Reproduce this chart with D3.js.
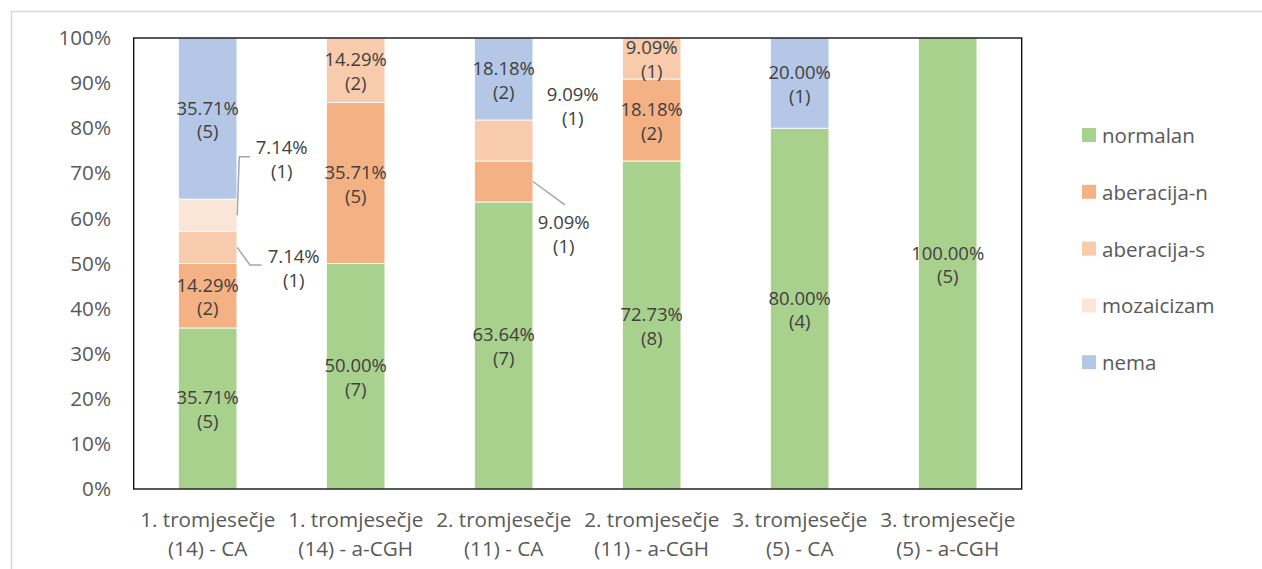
<!DOCTYPE html>
<html><head><meta charset="utf-8">
<script src="https://cdn.jsdelivr.net/npm/d3@7"></script>
<style>body{margin:0;background:#fff}svg{display:block}text{font-family:"Open Sans",sans-serif;fill:#595959}</style>
</head><body>
<svg id="c" width="1262" height="569"></svg>
<script>
const categories = [["1. tromjesečje","(14) - CA"],["1. tromjesečje","(14) - a-CGH"],["2. tromjesečje","(11) - CA"],["2. tromjesečje","(11) - a-CGH"],["3. tromjesečje","(5) - CA"],["3. tromjesečje","(5) - a-CGH"]];
const seriesNames = ["normalan","aberacija-n","aberacija-s","mozaicizam","nema"];
const normalan    = [35.71, 50.00, 63.64, 72.73, 80.00, 100.00];
const aberacijaN  = [14.29, 35.71,  9.09, 18.18,  0,      0];
const aberacijaS  = [ 7.14, 14.29,  9.09,  9.09,  0,      0];
const mozaicizam  = [ 7.14,  0,     0,     0,     0,      0];
const nema        = [35.71,  0,    18.18,  0,    20.00,   0];
const countNormalan   = [5,7,7,8,4,5];
const countAberacijaN = [2,5,1,2,0,0];
const countAberacijaS = [1,2,1,1,0,0];
const countMozaicizam = [1,0,0,0,0,0];
const countNema       = [5,0,2,0,1,0];
const yTicks = [0,10,20,30,40,50,60,70,80,90,100];

const colors = ["#a9d18e","#f4b183","#f8cbad","#fbe5d6","#b4c7e7"];
const values = [normalan, aberacijaN, aberacijaS, mozaicizam, nema];
const counts = [countNormalan, countAberacijaN, countAberacijaS, countMozaicizam, countNema];

// callouts: "series-category" -> label offset (px) and leader path
const callouts = {
  "3-0": {dx: 74, dy: -57, leader: [[0.3,0],[2.3,-58.5],[13,-58.5]]},
  "2-0": {dx: 86, dy: 20, leader: [[0.3,0],[13,17.6],[24.7,17.6]]},
  "2-2": {dx: 69, dy: -35.5, leader: null},
  "1-2": {dx: 60, dy: 52, leader: [[0,0],[32,23.3]]}
};

const svg = d3.select("#c");
const L = 133.7, R = 1021.7, T = 38, B = 489;
const FONT = '"Open Sans",sans-serif';

// outer chart border
svg.append("rect").attr("x",11.5).attr("y",11.5).attr("width",1300).attr("height",600)
  .attr("fill","none").attr("stroke","#d9d9d9").attr("stroke-width",1.5);

const x = d3.scaleBand().domain(d3.range(categories.length)).range([L,R]).paddingInner(0.605).paddingOuter(0.3025);
const y = d3.scaleLinear().domain([0,100]).range([B,T]);

const stackData = categories.map((c,i)=>{const o={i}; seriesNames.forEach((s,k)=>o[s]=values[k][i]); return o;});
const stacked = d3.stack().keys(seriesNames)(stackData);

const g = svg.append("g");
stacked.forEach((layer,k)=>{
  g.selectAll(null).data(layer.filter(d=>d[1]-d[0]>0)).join("rect")
    .attr("x",d=>x(d.data.i)).attr("width",x.bandwidth())
    .attr("y",d=>y(d[1])).attr("height",d=>y(d[0])-y(d[1]))
    .attr("fill",colors[k]).attr("stroke","#fff").attr("stroke-width",0.8);
});

// plot border
svg.append("rect").attr("x",L).attr("y",T).attr("width",R-L).attr("height",B-T)
  .attr("fill","none").attr("stroke","#000").attr("stroke-width",1.3);

// data labels
const lg = svg.append("g");
stacked.forEach((layer,k)=>{
  layer.forEach((d,i)=>{
    const v = d[1]-d[0];
    if (v<=0) return;
    const cx = x(i)+x.bandwidth()/2, cy = (y(d[0])+y(d[1]))/2;
    const co = callouts[k+"-"+i];
    let tx = cx, ty = cy;
    if (co){
      tx = cx+co.dx; ty = cy+co.dy;
      if (co.leader){
        const x0 = x(i)+x.bandwidth();
        lg.append("path").attr("d", d3.line()(co.leader.map(p=>[x0+p[0], cy+p[1]])))
          .attr("fill","none").attr("stroke","#a6a6a6").attr("stroke-width",1.5);
      }
    }
    const t = lg.append("text").attr("x",tx).attr("text-anchor","middle").style("font-size","18.5px").style("fill","#404040");
    t.append("tspan").attr("x",tx).attr("y",ty-4).text(v.toFixed(2)+"%");
    t.append("tspan").attr("x",tx).attr("y",ty+19.7).text("("+counts[k][i]+")");
  });
});

// y axis
const yAxis = svg.append("g").attr("transform",`translate(${L},0)`)
  .call(d3.axisLeft(y).tickValues(yTicks).tickFormat(d=>d+"%").tickSize(0).tickPadding(22.7));
yAxis.select(".domain").remove();
yAxis.selectAll("text").style("font-size","20.7px").style("fill","#595959").style("font-family",FONT);

// x axis labels
const xAxis = svg.append("g").attr("transform",`translate(0,${B})`)
  .call(d3.axisBottom(x).tickSize(0).tickFormat(""));
xAxis.select(".domain").remove();
xAxis.selectAll(".tick").each(function(d){
  const t = d3.select(this).append("text").attr("text-anchor","middle").style("font-size","20.7px").style("fill","#595959")
    .style("font-family",FONT);
  t.append("tspan").attr("x",0).attr("y",38).text(categories[d][0]);
  t.append("tspan").attr("x",0).attr("y",67).text(categories[d][1]);
});

// legend
const leg = svg.append("g");
seriesNames.forEach((s,k)=>{
  const yy = 135 + k*56.8;
  leg.append("rect").attr("x",1082).attr("y",yy-7).attr("width",14).attr("height",14).attr("fill",colors[k]);
  leg.append("text").attr("x",1102).attr("y",yy+8).style("font-size","20.5px").style("fill","#595959").text(s);
});
</script>
</body></html>
